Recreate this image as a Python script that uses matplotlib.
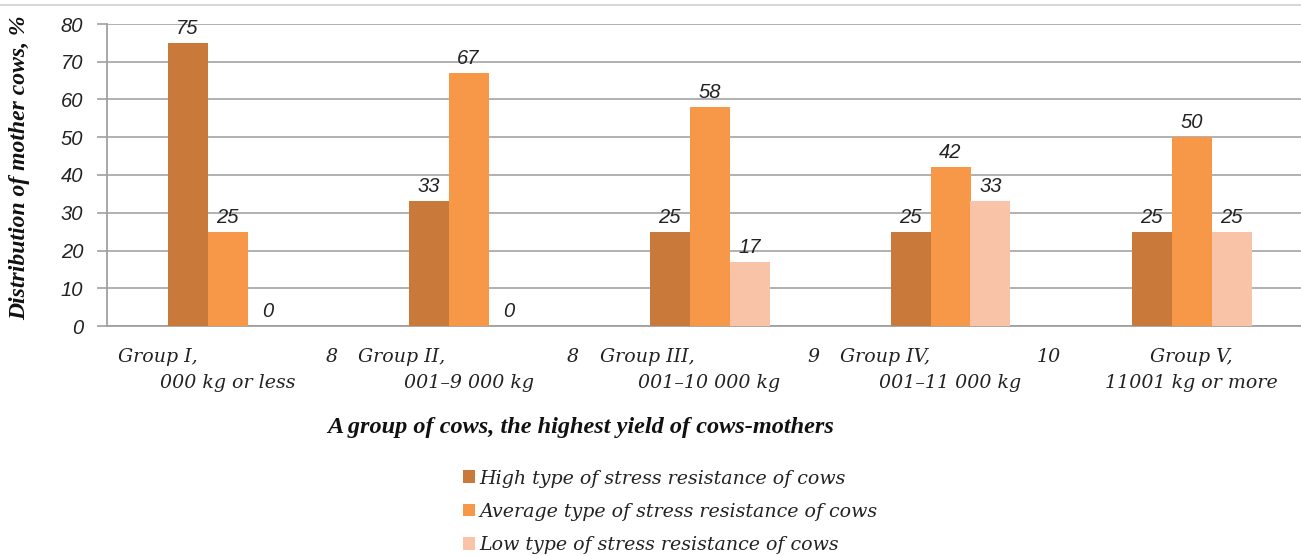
import matplotlib
matplotlib.use("Agg")
import matplotlib.pyplot as plt
from matplotlib.lines import Line2D
from matplotlib.patches import Patch
import numpy as np

# ---- data ----
group_names = ["Group I,", "Group II,", "Group III,", "Group IV,", "Group V,"]
range_start = ["8", "8", "9", "10", ""]
range_rest = ["000 kg or less", "001\u20139 000 kg", "001\u201310 000 kg", "001\u201311 000 kg", "11001 kg or more"]
series_names = ["High type of stress resistance of cows",
                "Average type of stress resistance of cows",
                "Low type of stress resistance of cows"]
high = [75, 33, 25, 25, 25]
average = [25, 67, 58, 42, 50]
low = [0, 0, 17, 33, 25]
y_ticks = [0, 10, 20, 30, 40, 50, 60, 70, 80]
y_title = "Distribution of mother cows, %"
x_title = "A group of cows, the highest yield of cows-mothers"

colors = ["#C97A3A", "#F79748", "#F9C3A8"]
W, H = 1301, 556
fig = plt.figure(figsize=(W / 100, H / 100), dpi=100)

left_px, right_px, top_px, bot_px = 107, 1312, 24, 326
ax = fig.add_axes([left_px / W, 1 - bot_px / H, (right_px - left_px) / W, (bot_px - top_px) / H])

serif_it = dict(family="DejaVu Serif", style="italic")
sans_it = dict(family="Liberation Sans", style="italic")
cat_fs = 13.7

x = np.arange(len(group_names))
bw = 40 / 241
series = [high, average, low]
for k, (vals, col, name) in enumerate(zip(series, colors, series_names)):
    pos = x + (k - 1) * bw
    ax.bar(pos, vals, width=bw, color=col, label=name, zorder=3, linewidth=0)
    for p, v in zip(pos, vals):
        ax.annotate(str(v), xy=(p, v), xytext=(0, 5), textcoords="offset pixels",
                    ha="center", va="bottom", fontsize=14.5, color="#222222",
                    annotation_clip=False, **sans_it)

ax.set_xlim(-0.5, len(group_names) - 0.5)
ax.set_ylim(0, 80)
ax.set_yticks(y_ticks)
ax.set_yticklabels([str(t) for t in y_ticks], fontsize=14.5, color="#222222", **sans_it)
ax.yaxis.grid(True, color="#B0B0B0", linewidth=1.4, zorder=0)
ax.set_axisbelow(True)
ax.tick_params(axis="y", length=7, color="#A0A0A0", width=1.2, pad=10)
ax.tick_params(axis="x", length=0, labelbottom=False)
for s in ["top", "right"]:
    ax.spines[s].set_visible(False)
for s in ["left", "bottom"]:
    ax.spines[s].set_color("#A0A0A0")
    ax.spines[s].set_linewidth(1.3)

# category labels (two lines, Excel-style wrapping)
for i in range(len(group_names)):
    if range_start[i]:
        ax.annotate(group_names[i], xy=(i, 0), xycoords=("data", "axes fraction"),
                    xytext=(-110, -31), textcoords="offset pixels", ha="left", va="center",
                    fontsize=cat_fs, color="#222222", annotation_clip=False, **serif_it)
        ax.annotate(range_start[i], xy=(i, 0), xycoords=("data", "axes fraction"),
                    xytext=(110, -31), textcoords="offset pixels", ha="right", va="center",
                    fontsize=cat_fs, color="#222222", annotation_clip=False, **serif_it)
    else:
        ax.annotate(group_names[i], xy=(i, 0), xycoords=("data", "axes fraction"),
                    xytext=(0, -31), textcoords="offset pixels", ha="center", va="center",
                    fontsize=cat_fs, color="#222222", annotation_clip=False, **serif_it)
    ax.annotate(range_rest[i], xy=(i, 0), xycoords=("data", "axes fraction"),
                xytext=(0, -57), textcoords="offset pixels", ha="center", va="center",
                fontsize=cat_fs, color="#222222", annotation_clip=False, **serif_it)

fig.text(20 / W, 1 - 168 / H, y_title, rotation=90, ha="center", va="center",
         fontsize=17, fontweight="bold", family="Liberation Serif", style="italic", color="#111111")
fig.text(581 / W, 1 - 427 / H, x_title, ha="center", va="center",
         fontsize=17.5, fontweight="bold", family="Liberation Serif", style="italic", color="#111111")

handles = [Patch(facecolor=c, edgecolor="none") for c in colors]
leg = fig.legend(handles, series_names, loc="upper left", bbox_to_anchor=(453 / W, 1 - 460 / H),
                 frameon=False, prop=dict(size=cat_fs, **serif_it), handlelength=0.65,
                 handleheight=0.65, handletextpad=0.25, labelspacing=0.8, borderpad=0)
for t in leg.get_texts():
    t.set_color("#222222")

fig.add_artist(Line2D([0, 1], [1 - 4.5 / H] * 2, transform=fig.transFigure, color="#D0D0D0", linewidth=1.2))

fig.savefig("out.png", dpi=100)
